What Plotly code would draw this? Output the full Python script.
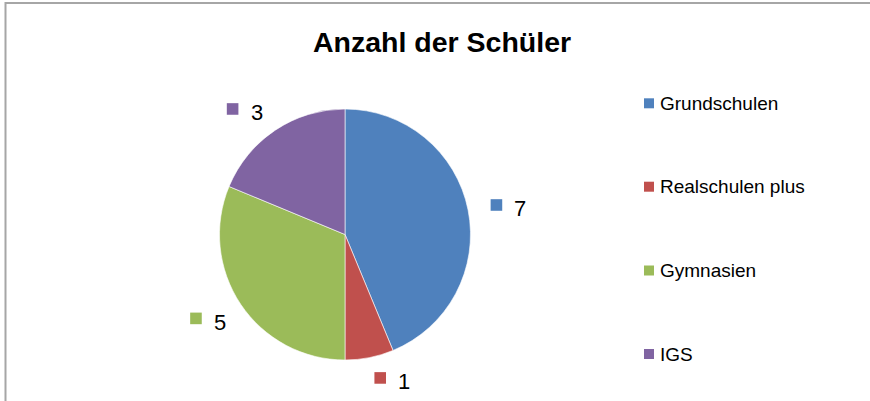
import math
import plotly.graph_objects as go

# ---- data ----
categories = ["Grundschulen", "Realschulen plus", "Gymnasien", "IGS"]
values = [7, 1, 5, 3]
colors = ["#4F81BD", "#C0504D", "#9BBB59", "#8064A2"]
title_text = "Anzahl der Schüler"

# ---- layout constants (pixels) ----
W, H = 870, 401
CX, CY, R = 345.0, 234.5, 125.5       # pie centre / radius in pixels
LABEL_DIST = 160.0                     # distance of data label key from centre
label_nudge = [(-5.5, 1.7), (4.0, -13.5), (-16.0, -5.0), (-23.5, 7.5)]
FONT = "Liberation Sans, Arial, sans-serif"


def px(x):
    return x / W


def py(y):
    return 1 - y / H


fig = go.Figure()
fig.add_trace(go.Pie(
    labels=categories,
    values=values,
    marker=dict(colors=colors, line=dict(color="white", width=0.6)),
    sort=False,
    direction="clockwise",
    rotation=0,
    textinfo="none",
    hoverinfo="label+value",
    showlegend=False,
    domain=dict(x=[px(CX - R), px(CX + R)], y=[py(CY + R), py(CY - R)]),
))

shapes = []
annotations = []

# border (left and top edges of the chart area)
shapes.append(dict(
    type="path", xref="paper", yref="paper",
    path=f"M {px(5.5)},{py(401)} L {px(5.5)},{py(3)} L {px(870)},{py(3)}",
    line=dict(color="#A6A6A6", width=2),
))

# title
annotations.append(dict(
    text=f"<b>{title_text}</b>", xref="paper", yref="paper",
    x=px(442.5), y=py(42), xanchor="center", yanchor="middle",
    showarrow=False, font=dict(family=FONT, size=28.5, color="black"),
))

# data labels (computed from slice mid-angles)
total = sum(values)
cum = 0.0
for i, v in enumerate(values):
    mid = (cum + v / 2) / total * 2 * math.pi
    cum += v
    sx = CX + LABEL_DIST * math.sin(mid) + label_nudge[i][0]
    sy = CY - LABEL_DIST * math.cos(mid) + label_nudge[i][1]
    s = 5.8
    shapes.append(dict(
        type="rect", xref="paper", yref="paper",
        x0=px(sx - s), x1=px(sx + s), y0=py(sy + s), y1=py(sy - s),
        fillcolor=colors[i], line=dict(width=0),
    ))
    annotations.append(dict(
        text=str(v), xref="paper", yref="paper",
        x=px(sx + 24), y=py(sy + 4), xanchor="center", yanchor="middle",
        showarrow=False, font=dict(family=FONT, size=22, color="black"),
    ))

# legend (right side)
legend_y = [103.3, 186.7, 270.5, 354.0]
for i, cat in enumerate(categories):
    yc = legend_y[i]
    shapes.append(dict(
        type="rect", xref="paper", yref="paper",
        x0=px(644), x1=px(654), y0=py(yc + 5), y1=py(yc - 5),
        fillcolor=colors[i], line=dict(width=0),
    ))
    annotations.append(dict(
        text=cat, xref="paper", yref="paper",
        x=px(658), y=py(yc), xanchor="left", yanchor="middle",
        showarrow=False, font=dict(family=FONT, size=19, color="black"),
    ))

fig.update_layout(
    width=W, height=H,
    margin=dict(l=0, r=0, t=0, b=0),
    paper_bgcolor="white",
    plot_bgcolor="white",
    showlegend=False,
    shapes=shapes,
    annotations=annotations,
)

fig.write_html(
    "out.html",
    config={"displayModeBar": False},
    post_script="document.body.style.margin='0';document.body.style.overflow='hidden';",
)
